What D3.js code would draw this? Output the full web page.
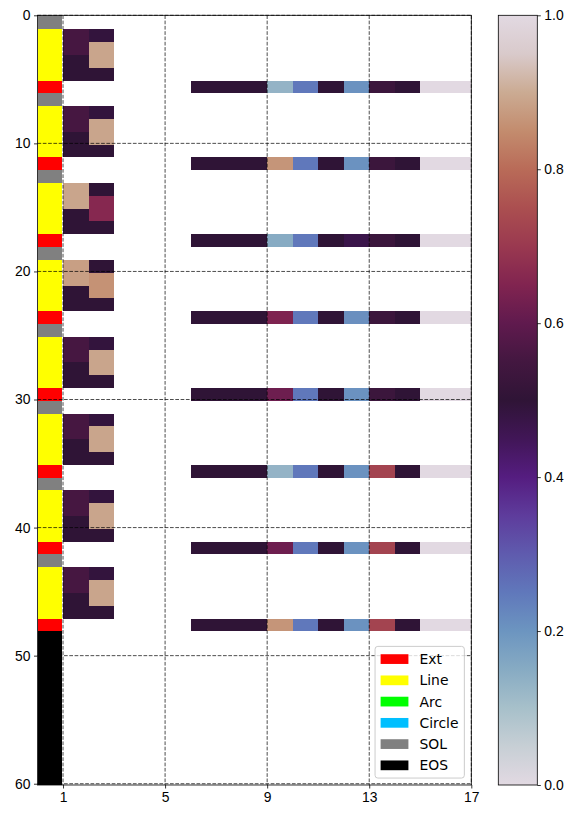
<!DOCTYPE html>
<html>
<head>
<meta charset="utf-8">
<script src="https://cdn.jsdelivr.net/npm/d3@7"></script>
<style>
    body { margin: 0; background: #fff; }
    svg { font-family: "DejaVu Sans", sans-serif; }
    .tick text { font-size: 13.9px; fill: #000; }
    .tick line { stroke: #000; stroke-width: 0.8; }
</style>
</head>
<body>
<svg id="chart"></svg>
<script>
// primitive types, legend order and colours
const categories = ["Ext", "Line", "Arc", "Circle", "SOL", "EOS"];
const categoryColors = ["#ff0000", "#ffff00", "#00ff00", "#00bfff", "#808080", "#000000"];

// type of every row (first column)
const rowTypes = [
    "SOL", "Line", "Line", "Line", "Line", "Ext",
    "SOL", "Line", "Line", "Line", "Line", "Ext",
    "SOL", "Line", "Line", "Line", "Line", "Ext",
    "SOL", "Line", "Line", "Line", "Line", "Ext",
    "SOL", "Line", "Line", "Line", "Line", "Ext",
    "SOL", "Line", "Line", "Line", "Line", "Ext",
    "SOL", "Line", "Line", "Line", "Line", "Ext",
    "SOL", "Line", "Line", "Line", "Line", "Ext",
    "EOS", "EOS", "EOS", "EOS", "EOS", "EOS",
    "EOS", "EOS", "EOS", "EOS", "EOS", "EOS"
];

// parameter columns used by each kind of row
const lineCols = [1, 2];
const extCols = [6, 7, 8, 9, 10, 11, 12, 13, 14, 15, 16];

// values of Line rows, in order
const lineVals = [
    [0.555, 0.49], [0.555, 0.89], [0.5, 0.89], [0.5, 0.5],
    [0.555, 0.49], [0.555, 0.89], [0.5, 0.89], [0.5, 0.5],
    [0.89, 0.5], [0.89, 0.66], [0.5, 0.66], [0.5, 0.5],
    [0.88, 0.5], [0.88, 0.86], [0.5, 0.86], [0.5, 0.5],
    [0.555, 0.49], [0.555, 0.89], [0.5, 0.89], [0.5, 0.5],
    [0.555, 0.49], [0.555, 0.89], [0.5, 0.89], [0.5, 0.5],
    [0.555, 0.49], [0.555, 0.89], [0.5, 0.89], [0.5, 0.5],
    [0.555, 0.49], [0.555, 0.89], [0.5, 0.89], [0.5, 0.5]
];

// values of Ext rows, in order
const extVals = [
    [0.5, 0.5, 0.5, 0.13, 0.25, 0.5, 0.205, 0.53, 0.5, 0, 0],
    [0.5, 0.5, 0.5, 0.865, 0.25, 0.5, 0.205, 0.53, 0.5, 0, 0],
    [0.5, 0.5, 0.5, 0.15, 0.25, 0.5, 0.47, 0.53, 0.5, 0, 0],
    [0.5, 0.5, 0.5, 0.645, 0.25, 0.5, 0.21, 0.53, 0.5, 0, 0],
    [0.5, 0.5, 0.5, 0.62, 0.25, 0.5, 0.205, 0.53, 0.5, 0, 0],
    [0.5, 0.5, 0.5, 0.13, 0.25, 0.5, 0.205, 0.725, 0.5, 0, 0],
    [0.5, 0.5, 0.5, 0.62, 0.25, 0.5, 0.205, 0.725, 0.5, 0, 0],
    [0.5, 0.5, 0.5, 0.865, 0.25, 0.5, 0.205, 0.725, 0.5, 0, 0]
];

const xTicks = [1, 5, 9, 13, 17];
const yTicks = [0, 10, 20, 30, 40, 50, 60];
const cbTicks = [0, 0.2, 0.4, 0.6, 0.8, 1.0];

// twilight-like cyclic colormap
const cmapStops = [0, 0.05, 0.1, 0.15, 0.2, 0.25, 0.3, 0.35, 0.4, 0.45, 0.5,
    0.55, 0.6, 0.65, 0.7, 0.75, 0.8, 0.85, 0.9, 0.95, 1];
const cmapColors = ["#e2d9e2", "#c7cfd5", "#a7c0ca", "#87abc3", "#6c95c0", "#6078bb",
    "#5f5bae", "#5e3c9c", "#551d80", "#411657", "#2f1436", "#431740", "#601a4e",
    "#812450", "#9a3950", "#ab4f50", "#b96b58", "#c38c6e", "#cbab93", "#d9cacb", "#e2d9e2"];

function drawChart() {
    const width = 578;
    const height = 819;
    const plot = { left: 37.5, right: 471.3, top: 15.3, bottom: 785 };
    const cbar = { left: 498.3, right: 537.3 };
    const yMax = 60.1;
    const rowShift = 0.1;

    const svg = d3.select('#chart')
        .attr('width', width)
        .attr('height', height);

    const xScale = d3.scaleLinear().domain([0, 17]).range([plot.left, plot.right]);
    const yScale = d3.scaleLinear().domain([0, yMax]).range([plot.top, plot.bottom]);
    const cmap = d3.scaleLinear().domain(cmapStops).range(cmapColors)
        .interpolate(d3.interpolateRgb);

    const rowTop = (j) => j === 0 ? 0 : j + rowShift;
    const rowBottom = (j) => Math.min(j + 1 + rowShift, yMax);

    // build the cells
    const typeCells = rowTypes.map((t, j) => ({ row: j, type: t }));
    const valueCells = [];
    let li = 0, ei = 0;
    rowTypes.forEach((t, j) => {
        if (t === "Line") {
            lineCols.forEach((c, k) => valueCells.push({ row: j, col: c, v: lineVals[li][k] }));
            li++;
        } else if (t === "Ext") {
            extCols.forEach((c, k) => valueCells.push({ row: j, col: c, v: extVals[ei][k] }));
            ei++;
        }
    });

    svg.append('defs').append('clipPath').attr('id', 'plotclip')
        .append('rect')
        .attr('x', plot.left).attr('y', plot.top)
        .attr('width', plot.right - plot.left).attr('height', plot.bottom - plot.top);

    const cells = svg.append('g').attr('clip-path', 'url(#plotclip)')
        .attr('shape-rendering', 'crispEdges');

    cells.selectAll('rect.type')
        .data(typeCells)
        .enter()
        .append('rect')
        .attr('class', 'type')
        .attr('x', xScale(0))
        .attr('width', xScale(1) - xScale(0) - 1)
        .attr('y', d => yScale(rowTop(d.row)))
        .attr('height', d => yScale(rowBottom(d.row)) - yScale(rowTop(d.row)))
        .attr('fill', d => categoryColors[categories.indexOf(d.type)]);

    cells.selectAll('rect.val')
        .data(valueCells)
        .enter()
        .append('rect')
        .attr('class', 'val')
        .attr('x', d => xScale(d.col))
        .attr('width', d => xScale(d.col + 1) - xScale(d.col))
        .attr('y', d => yScale(rowTop(d.row)))
        .attr('height', d => yScale(rowBottom(d.row)) - yScale(rowTop(d.row)))
        .attr('fill', d => cmap(d.v));

    // dashed grid on top of the image
    const grid = svg.append('g')
        .attr('stroke', '#000')
        .attr('stroke-opacity', 0.7)
        .attr('stroke-width', 1)
        .attr('stroke-dasharray', '3.7,1.6');
    grid.selectAll('line.gx')
        .data(xTicks)
        .enter()
        .append('line')
        .attr('x1', d => xScale(d)).attr('x2', d => xScale(d))
        .attr('y1', plot.top).attr('y2', plot.bottom);
    grid.selectAll('line.gy')
        .data(yTicks)
        .enter()
        .append('line')
        .attr('y1', d => yScale(d)).attr('y2', d => yScale(d))
        .attr('x1', plot.left).attr('x2', plot.right);

    // axes
    svg.append('g')
        .attr('transform', `translate(${plot.left}, 0)`)
        .call(d3.axisLeft(yScale).tickValues(yTicks).tickSize(3.5).tickPadding(3.5))
        .call(g => g.select('.domain').remove());
    svg.append('g')
        .attr('transform', `translate(0, ${plot.bottom})`)
        .call(d3.axisBottom(xScale).tickValues(xTicks).tickSize(3.5).tickPadding(3.5))
        .call(g => g.select('.domain').remove());

    svg.append('rect')
        .attr('x', plot.left).attr('y', plot.top)
        .attr('width', plot.right - plot.left).attr('height', plot.bottom - plot.top)
        .attr('fill', 'none').attr('stroke', '#000').attr('stroke-width', 0.8);

    // legend
    const fs = 13.9;
    const entryH = 14.3;
    const legW = 89.3;
    const legH = 2 * 0.4 * fs + categories.length * entryH + (categories.length - 1) * 0.5 * fs;
    const legX = plot.right - 0.5 * fs - legW;
    const legY = plot.bottom - 0.5 * fs - legH;
    const legend = svg.append('g').attr('transform', `translate(${legX}, ${legY})`);
    legend.append('rect')
        .attr('width', legW).attr('height', legH)
        .attr('rx', 2.8)
        .attr('fill', '#fff').attr('fill-opacity', 0.8)
        .attr('stroke', '#cccccc').attr('stroke-width', 1);
    const items = legend.selectAll('g.item')
        .data(categories)
        .enter()
        .append('g')
        .attr('transform', (d, i) => `translate(${0.4 * fs}, ${0.4 * fs + i * (entryH + 0.5 * fs) + entryH / 2})`);
    items.append('rect')
        .attr('x', 0).attr('y', -0.35 * fs)
        .attr('width', 2 * fs).attr('height', 0.7 * fs)
        .attr('fill', (d, i) => categoryColors[i]);
    items.append('text')
        .attr('x', 2.8 * fs)
        .attr('dy', '0.36em')
        .attr('font-size', fs)
        .text(d => d);

    // colorbar
    const cbScale = d3.scaleLinear().domain([0, 1]).range([plot.bottom, plot.top]);
    const grad = svg.select('defs').append('linearGradient')
        .attr('id', 'cbgrad')
        .attr('x1', 0).attr('y1', 1).attr('x2', 0).attr('y2', 0);
    grad.selectAll('stop')
        .data(cmapStops)
        .enter()
        .append('stop')
        .attr('offset', d => d)
        .attr('stop-color', (d, i) => cmapColors[i]);
    svg.append('rect')
        .attr('x', cbar.left).attr('y', plot.top)
        .attr('width', cbar.right - cbar.left).attr('height', plot.bottom - plot.top)
        .attr('fill', 'url(#cbgrad)')
        .attr('stroke', '#000').attr('stroke-width', 0.8);
    svg.append('g')
        .attr('transform', `translate(${cbar.right}, 0)`)
        .call(d3.axisRight(cbScale).tickValues(cbTicks).tickFormat(d3.format('.1f'))
            .tickSize(3.5).tickPadding(3.5))
        .call(g => g.select('.domain').remove());
}

drawChart();
</script>
</body>
</html>
